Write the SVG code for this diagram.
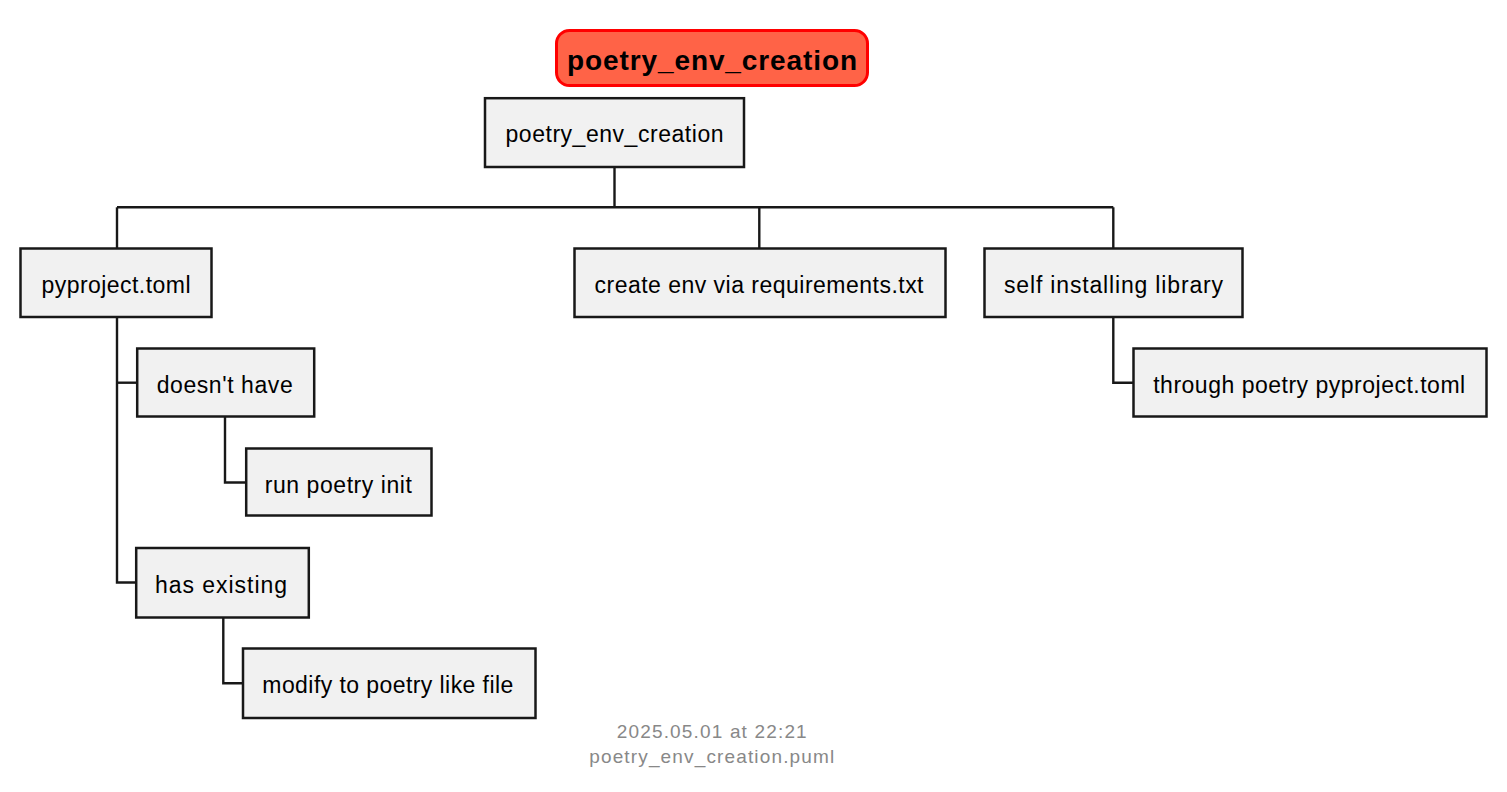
<svg xmlns="http://www.w3.org/2000/svg" width="1507" height="792" viewBox="0 0 1507 792">
<style>
.node rect{fill:#F1F1F1;stroke:#181818;stroke-width:2.5}
.node text{font-family:"Liberation Sans",Arial,sans-serif;font-size:23px;fill:#000;text-anchor:middle}
.conn path{fill:none;stroke:#181818;stroke-width:2.4}
.foot{font-family:"Liberation Sans",Arial,sans-serif;font-size:19px;fill:#888888;text-anchor:middle}
</style>
<rect width="1507" height="792" fill="#FFFFFF"/>
<g id="title">
<rect x="556.5" y="30.5" width="311" height="55" rx="13" ry="13" fill="#FF6347" stroke="#FF0000" stroke-width="3"/>
<text x="712" y="70" font-family="'Liberation Sans',Arial,sans-serif" font-size="28" font-weight="bold" text-anchor="middle" textLength="290" lengthAdjust="spacing">poetry_env_creation</text>
</g>
<g id="connectors" class="conn">
<path d="M614.5 167V207.3"/>
<path d="M117 207.3H1113.3"/>
<path d="M117 207.3V248.5"/>
<path d="M759.3 207.3V248.5"/>
<path d="M1113.3 207.3V248.5"/>
<path d="M117 317V582.5H137"/>
<path d="M117 382.7H137"/>
<path d="M225 416V482.5H246"/>
<path d="M223.3 618V683.3H243"/>
<path d="M1113.3 317V382.7H1133.5"/>
</g>
<g id="n_root" class="node">
<rect x="485" y="98.2" width="259" height="68.8"/>
<text x="614.5" y="142" textLength="218" lengthAdjust="spacing">poetry_env_creation</text>
</g>
<g id="n_pyproject" class="node">
<rect x="20.5" y="248.5" width="191" height="68.5"/>
<text x="116" y="292.5" textLength="149" lengthAdjust="spacing">pyproject.toml</text>
</g>
<g id="n_requirements" class="node">
<rect x="574.5" y="248.5" width="371" height="68.5"/>
<text x="759" y="292.5" textLength="329" lengthAdjust="spacing">create env via requirements.txt</text>
</g>
<g id="n_self" class="node">
<rect x="984.5" y="248.5" width="258" height="68.5"/>
<text x="1113.5" y="292.5" textLength="219" lengthAdjust="spacing">self installing library</text>
</g>
<g id="n_doesnt" class="node">
<rect x="137.2" y="348.5" width="177" height="68"/>
<text x="224.7" y="392.7" textLength="136" lengthAdjust="spacing">doesn't have</text>
</g>
<g id="n_init" class="node">
<rect x="246.2" y="448.5" width="185.3" height="67"/>
<text x="338.3" y="492.7" textLength="147" lengthAdjust="spacing">run poetry init</text>
</g>
<g id="n_existing" class="node">
<rect x="136.2" y="548" width="172.6" height="69.5"/>
<text x="221" y="593.3" textLength="132" lengthAdjust="spacing">has existing</text>
</g>
<g id="n_modify" class="node">
<rect x="243" y="648.5" width="292.5" height="69.5"/>
<text x="387.8" y="693.3" textLength="251" lengthAdjust="spacing">modify to poetry like file</text>
</g>
<g id="n_through" class="node">
<rect x="1133.5" y="348.5" width="353" height="68"/>
<text x="1309.2" y="393.3" textLength="312" lengthAdjust="spacing">through poetry pyproject.toml</text>
</g>
<g id="footer">
<text class="foot" x="711.7" y="737.7" textLength="190" lengthAdjust="spacing">2025.05.01 at 22:21</text>
<text class="foot" x="711.7" y="763.3" textLength="245" lengthAdjust="spacing">poetry_env_creation.puml</text>
</g>
</svg>
